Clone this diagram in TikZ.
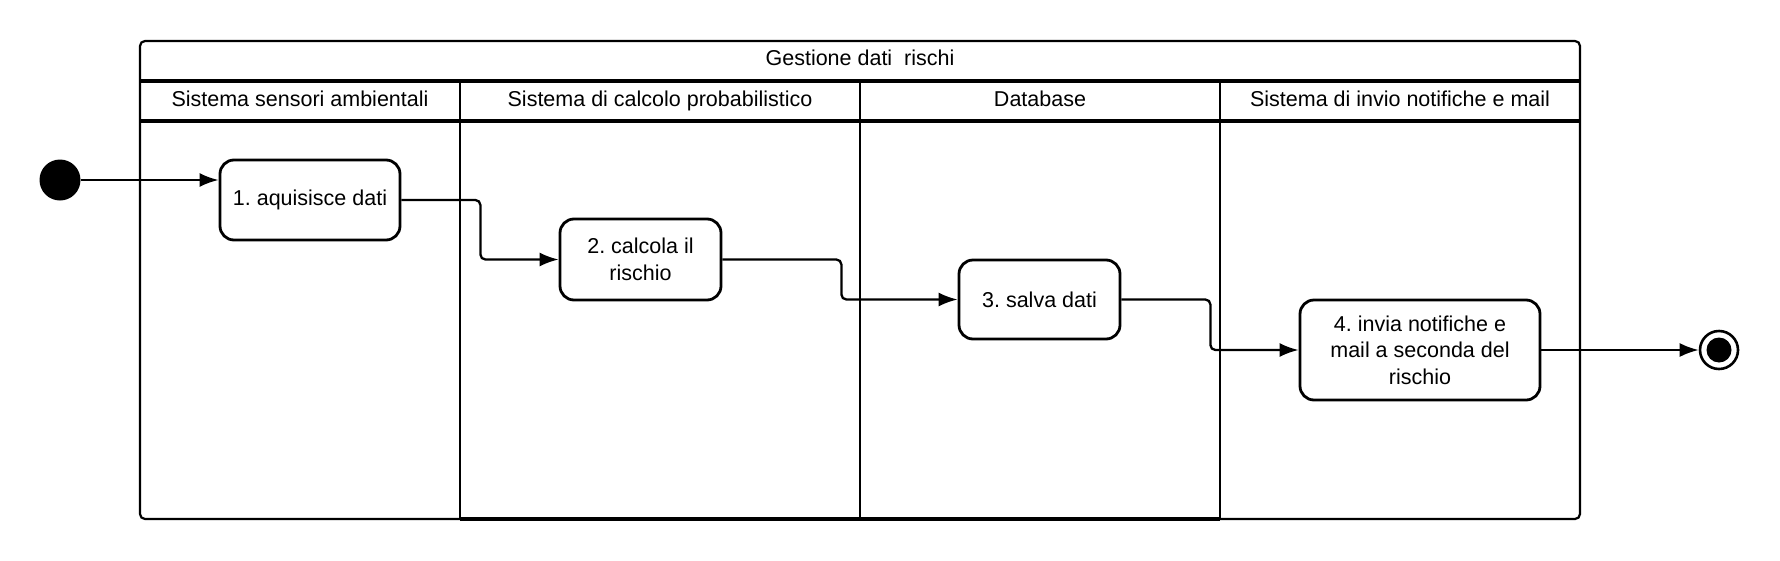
\documentclass[tikz,border=0pt]{standalone}
\usepackage{fontspec}
\setmainfont{Liberation Sans}
\usetikzlibrary{arrows.meta,calc}
\begin{document}
\begin{tikzpicture}[x=1pt,y=-1pt,
  every node/.style={font=\fontsize{21.5}{26.5}\selectfont},
  actbox/.style={draw,line width=2.8pt,rounded corners=14pt,align=center,inner sep=0pt,fill=white},
  lanetext/.style={inner sep=0pt,anchor=center,text height=15.5pt,text depth=4.5pt},
  flow/.style={line width=2.3pt,rounded corners=5pt,-{Latex[length=19pt,width=14pt]}},
  frame/.style={line width=2.2pt},
  laneline/.style={line width=3.2pt}]
\fill[white] (0,0) rectangle (1780,560);
\useasboundingbox (0,0) rectangle (1780,560);
% frame
\draw[frame,rounded corners=5pt] (140,41) rectangle (1580,519);
\draw[laneline] (140,81) -- (1580,81);
\draw[laneline] (140,121) -- (1580,121);
\draw[line width=2.8pt] (460,81) -- (460,519);
\draw[line width=2.2pt] (860,81) -- (860,519);
\draw[line width=2.8pt] (1220,81) -- (1220,519);
\draw[line width=3.2pt] (460,519) -- (1220,519);
% texts
\node[lanetext] (title) at (860,60) {Gestione dati\ \ rischi};
\node[lanetext] (h1) at (300,101) {Sistema sensori ambientali};
\node[lanetext] (h2) at (660,101) {Sistema di calcolo probabilistico};
\node[lanetext] (h3) at (1040,101) {Database};
\node[lanetext] (h4) at (1400,101) {Sistema di invio notifiche e mail};
% activities
\node[actbox,minimum width=180pt,minimum height=80pt] (b1) at (310,200) {1.\ aquisisce dati};
\node[actbox,minimum width=161pt,minimum height=81pt] (b2) at (640.5,259.5) {2.\ calcola il\\rischio};
\node[actbox,minimum width=161pt,minimum height=79pt] (b3) at (1039.5,299.5) {3.\ salva dati};
\node[actbox,minimum width=240pt,minimum height=100pt] (b4) at (1420,350) {4.\ invia notifiche e\\mail a seconda del\\rischio};
% start / end
\node[circle,fill=black,minimum size=41pt,inner sep=0pt] (init) at (60,180) {};
\node[circle,draw,line width=2.6pt,fill=white,minimum size=38pt,inner sep=0pt] (fin) at (1719,350) {};
\node[circle,fill=black,minimum size=25pt,inner sep=0pt] (fincore) at (fin) {};
% flows
\draw[flow] (init.east) -- (init -| b1.west);
\draw[flow] (b1.east) -- ([xshift=79pt]b1.east) |- (b2.west);
\draw[flow] (b2.east) -- ([xshift=119pt]b2.east) |- (b3.west);
\draw[flow] (b3.east) -- ([xshift=89pt]b3.east) |- (b4.west);
\draw[flow] (b4.east) -- (fin.west);
\end{tikzpicture}
\end{document}
